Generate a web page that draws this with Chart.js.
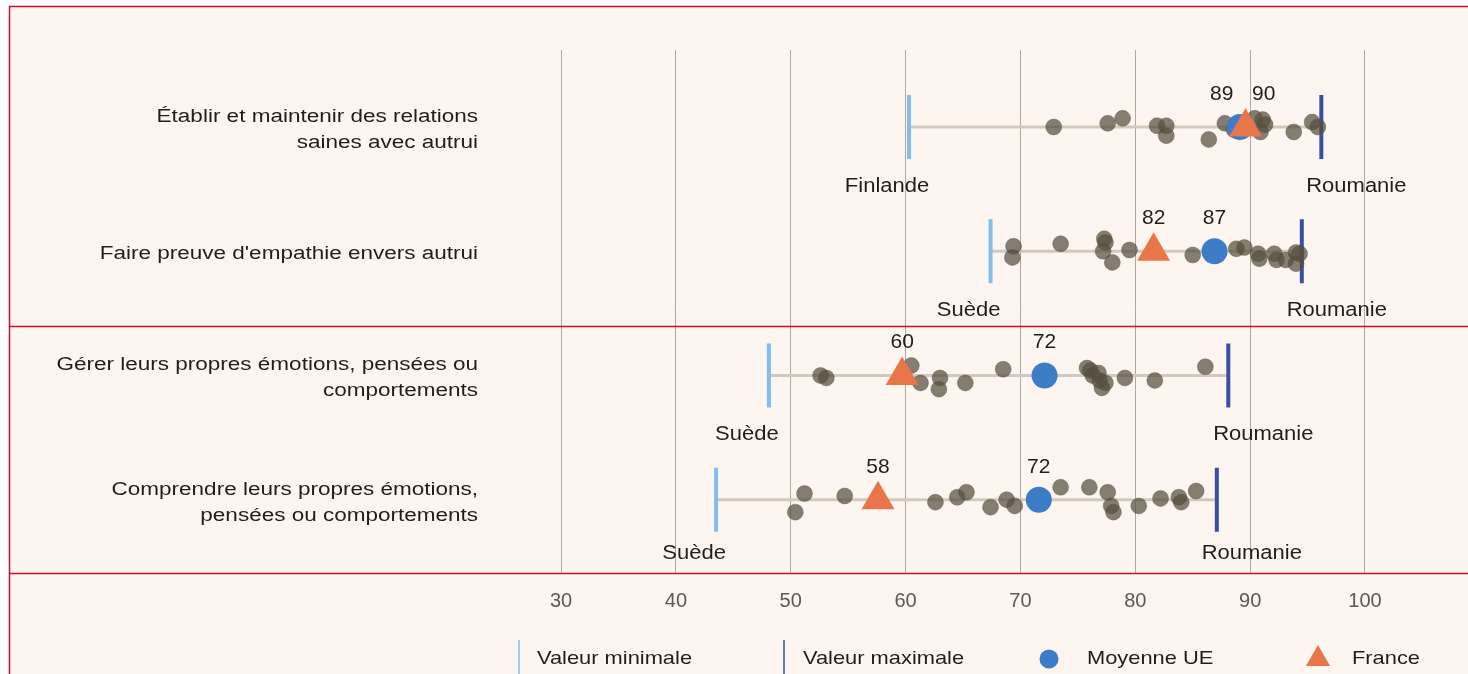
<!DOCTYPE html>
<html lang="fr">
<head>
<meta charset="utf-8">
<title>Compétences socio-émotionnelles</title>
<script src="https://cdn.jsdelivr.net/npm/chart.js@4.4.1/dist/chart.umd.min.js"></script>
<style>
  html, body { margin: 0; padding: 0; background: #ffffff; }
  canvas { display: block; }
</style>
</head>
<body>
<canvas id="chartSkills" width="1468" height="674"></canvas>
<script>
const skills = [
    ['Établir et maintenir des relations', 'saines avec autrui'],
    ["Faire preuve d'empathie envers autrui"],
    ['Gérer leurs propres émotions, pensées ou', 'comportements'],
    ['Comprendre leurs propres émotions,', 'pensées ou comportements']
];
const tickValues = [30, 40, 50, 60, 70, 80, 90, 100];

const minValues = [60.3, 67.4, 48.1, 43.5];
const minCountries = ['Finlande', 'Suède', 'Suède', 'Suède'];
const maxValues = [96.2, 94.5, 88.1, 87.1];
const maxCountries = ['Roumanie', 'Roumanie', 'Roumanie', 'Roumanie'];
const euMean = [89.1, 86.9, 72.1, 71.6];
const france = [89.6, 81.6, 59.7, 57.6];

// autres pays de l'UE, un tableau par compétence (+ petit décalage vertical)
const paysEtablir = [72.9, 77.6, 78.9, 81.9, 82.7, 82.7, 86.4, 87.8, 88.6, 90.4, 90.9, 91.1, 91.3, 93.8, 95.4, 95.9];
const decalEtablir = [0, -0.03, -0.07, -0.01, -0.01, 0.07, 0.10, -0.03, 0.02, -0.07, 0.04, -0.06, -0.02, 0.04, -0.04, 0];
const paysEmpathie = [69.4, 69.3, 73.5, 77.3, 77.4, 77.2, 78.0, 79.5, 85.0, 88.8, 89.5, 90.7, 90.8, 92.1, 92.3, 93.1, 94.0, 94.0, 94.3];
const decalEmpathie = [-0.04, 0.05, -0.06, -0.10, -0.07, 0, 0.09, -0.01, 0.03, -0.02, -0.03, 0.02, 0.06, 0.02, 0.07, 0.07, 0.01, 0.10, 0.02];
const paysGerer = [52.6, 53.1, 60.5, 61.3, 63.0, 62.9, 65.2, 68.5, 75.8, 76.1, 76.3, 76.8, 76.9, 77.4, 77.1, 79.1, 81.7, 86.1];
const decalGerer = [0, 0.02, -0.08, 0.06, 0.02, 0.11, 0.06, -0.05, -0.06, -0.04, 0, -0.02, 0.04, 0.06, 0.10, 0.02, 0.04, -0.07];
const paysComprendre = [51.2, 50.4, 54.7, 62.6, 64.5, 65.3, 67.4, 68.8, 69.5, 73.5, 76.0, 77.6, 77.9, 78.1, 80.3, 82.2, 83.8, 84.0, 85.3];
const decalComprendre = [-0.05, 0.10, -0.03, 0.02, -0.02, -0.06, 0.06, 0, 0.05, -0.10, -0.10, -0.06, 0.05, 0.10, 0.05, -0.01, -0.02, 0.02, -0.07];

const FONT = "'Liberation Sans', Arial, sans-serif";
const RED = 'rgb(200, 16, 46)';
const TEXT = '#1e1e1e';

function stretchText(ctx, text, x, y, align, sx){
    ctx.save();
    ctx.translate(x, y);
    ctx.scale(sx, 1);
    ctx.textAlign = align;
    ctx.fillText(text, 0, 0);
    ctx.restore();
}

const decorPlugin = {
    id: 'decor',
    beforeDraw(chart){
        const {ctx, width, height} = chart;
        ctx.save();
        ctx.fillStyle = '#ffffff';
        ctx.fillRect(0, 0, width, height);
        ctx.fillStyle = 'rgb(253, 246, 240)';
        ctx.fillRect(9, 6, width, height);
        ctx.restore();
    },
    afterDraw(chart){
        const {ctx, width, height, chartArea} = chart;
        const x = chart.scales.x;
        const y = chart.scales.y;

        // cadre et séparateurs
        ctx.save();
        ctx.strokeStyle = RED;
        ctx.lineWidth = 1.5;
        ctx.beginPath();
        ctx.moveTo(9.5, height + 2);
        ctx.lineTo(9.5, 6.5);
        ctx.lineTo(width + 2, 6.5);
        const sep = Math.round(y.getPixelForValue(1.6)) + 0.5;
        ctx.moveTo(9.5, sep);
        ctx.lineTo(width + 2, sep);
        ctx.moveTo(9.5, chartArea.bottom + 0.5);
        ctx.lineTo(width + 2, chartArea.bottom + 0.5);
        ctx.stroke();

        ctx.fillStyle = TEXT;
        ctx.textBaseline = 'middle';

        // libellés des compétences
        ctx.font = '18px ' + FONT;
        skills.forEach((lines, i) => {
            const cy = y.getPixelForValue(i) + 3 - (lines.length - 1) * 13;
            lines.forEach((t, k) => stretchText(ctx, t, 478, cy + k * 26, 'right', 1.25));
        });

        // pays min / max
        ctx.font = '20px ' + FONT;
        skills.forEach((s, i) => {
            const ly = Math.min(y.getPixelForValue(i) + 59, chartArea.bottom - 20);
            stretchText(ctx, minCountries[i], x.getPixelForValue(minValues[i]) - 22, ly, 'center', 1.1);
            stretchText(ctx, maxCountries[i], x.getPixelForValue(maxValues[i]) + 35, ly, 'center', 1.1);
        });

        // valeurs UE et France
        ctx.font = '21px ' + FONT;
        ctx.textAlign = 'center';
        skills.forEach((s, i) => {
            let ex = x.getPixelForValue(euMean[i]);
            let fx = x.getPixelForValue(france[i]);
            if (Math.abs(ex - fx) < 40) {
                const mid = (ex + fx) / 2;
                const side = ex <= fx ? 1 : -1;
                ex = mid - side * 21;
                fx = mid + side * 21;
            }
            const ly = y.getPixelForValue(i) - 33;
            ctx.fillText(String(Math.round(euMean[i])), ex, ly);
            ctx.fillText(String(Math.round(france[i])), fx, ly);
        });

        // légende
        const ds = chart.data.datasets;
        const items = [
            {d: ds[4], cx: 519, r: 19, tx: 537},
            {d: ds[3], cx: 784, r: 19, tx: 803},
            {d: ds[1], cx: 1049, r: 9.5, tx: 1087},
            {d: ds[0], cx: 1318, r: 14, tx: 1352}
        ];
        const legendY = 659;
        items.forEach(it => {
            ctx.fillStyle = it.d.pointBackgroundColor;
            ctx.strokeStyle = it.d.pointBorderColor;
            Chart.helpers.drawPoint(ctx, {
                pointStyle: it.d.pointStyle,
                rotation: it.d.pointRotation || 0,
                radius: it.r,
                borderWidth: it.d.pointStyle === 'line' ? 3 : 0
            }, it.cx, legendY);
            ctx.fillStyle = TEXT;
            ctx.font = '19px ' + FONT;
            stretchText(ctx, it.d.label, it.tx, legendY, 'left', 1.15);
        });
        ctx.restore();
    }
};

function load(){
    const ctx = document.getElementById('chartSkills');
    const rows = [
        [paysEtablir, decalEtablir],
        [paysEmpathie, decalEmpathie],
        [paysGerer, decalGerer],
        [paysComprendre, decalComprendre]
    ];
    const countryPoints = [];
    rows.forEach(([vals, jit], i) => {
        vals.forEach((v, k) => countryPoints.push({x: v, y: i + jit[k]}));
    });

    const rangeLines = skills.map((s, i) => ({
        label: 'Étendue',
        data: [{x: minValues[i], y: i}, {x: maxValues[i], y: i}],
        showLine: true,
        borderColor: 'rgb(212, 200, 188)',
        borderWidth: 3,
        pointRadius: 0,
        order: 6
    }));

    new Chart(ctx, {
        type: 'scatter',
        data: {
            datasets: [
                {
                    label: 'France',
                    data: france.map((v, i) => ({x: v, y: i})),
                    pointStyle: 'triangle',
                    pointRadius: 19,
                    pointBackgroundColor: 'rgb(232, 118, 72)',
                    pointBorderColor: 'rgb(232, 118, 72)',
                    pointBorderWidth: 0,
                    order: 1
                },
                {
                    label: 'Moyenne UE',
                    data: euMean.map((v, i) => ({x: v, y: i})),
                    pointStyle: 'circle',
                    pointRadius: 13,
                    pointBackgroundColor: 'rgb(61, 125, 200)',
                    pointBorderColor: 'rgb(61, 125, 200)',
                    pointBorderWidth: 0,
                    order: 2
                },
                {
                    label: 'Pays',
                    data: countryPoints,
                    pointStyle: 'circle',
                    pointRadius: 8,
                    pointBackgroundColor: 'rgba(87, 77, 64, 0.72)',
                    pointBorderColor: 'rgba(87, 77, 64, 0.35)',
                    pointBorderWidth: 1,
                    order: 3
                },
                {
                    label: 'Valeur maximale',
                    data: maxValues.map((v, i) => ({x: v, y: i})),
                    pointStyle: 'line',
                    pointRotation: 90,
                    pointRadius: 32,
                    pointBorderWidth: 4,
                    pointBackgroundColor: 'rgb(58, 78, 166)',
                    pointBorderColor: 'rgb(58, 78, 166)',
                    order: 4
                },
                {
                    label: 'Valeur minimale',
                    data: minValues.map((v, i) => ({x: v, y: i})),
                    pointStyle: 'line',
                    pointRotation: 90,
                    pointRadius: 32,
                    pointBorderWidth: 4,
                    pointBackgroundColor: 'rgb(128, 189, 240)',
                    pointBorderColor: 'rgb(128, 189, 240)',
                    order: 5
                },
                ...rangeLines
            ]
        },
        options: {
            responsive: false,
            animation: false,
            events: [],
            layout: {
                padding: {left: 503.6, right: 45.6, top: 50, bottom: 0}
            },
            scales: {
                x: {
                    type: 'linear',
                    min: 25,
                    max: 105,
                    afterBuildTicks: (scale) => {
                        scale.ticks = tickValues.map(v => ({value: v}));
                    },
                    afterFit: (scale) => {
                        scale.height = 101;
                    },
                    grid: {
                        color: 'rgb(178, 167, 155)',
                        lineWidth: 1,
                        drawTicks: false
                    },
                    border: {
                        display: false
                    },
                    ticks: {
                        color: '#595959',
                        padding: 16,
                        font: {family: FONT, size: 20}
                    }
                },
                y: {
                    type: 'linear',
                    min: -0.62,
                    max: 3.59,
                    reverse: true,
                    display: false
                }
            },
            plugins: {
                legend: {display: false},
                tooltip: {enabled: false}
            }
        },
        plugins: [decorPlugin]
    });
}

window.addEventListener('load', load);
</script>
</body>
</html>
